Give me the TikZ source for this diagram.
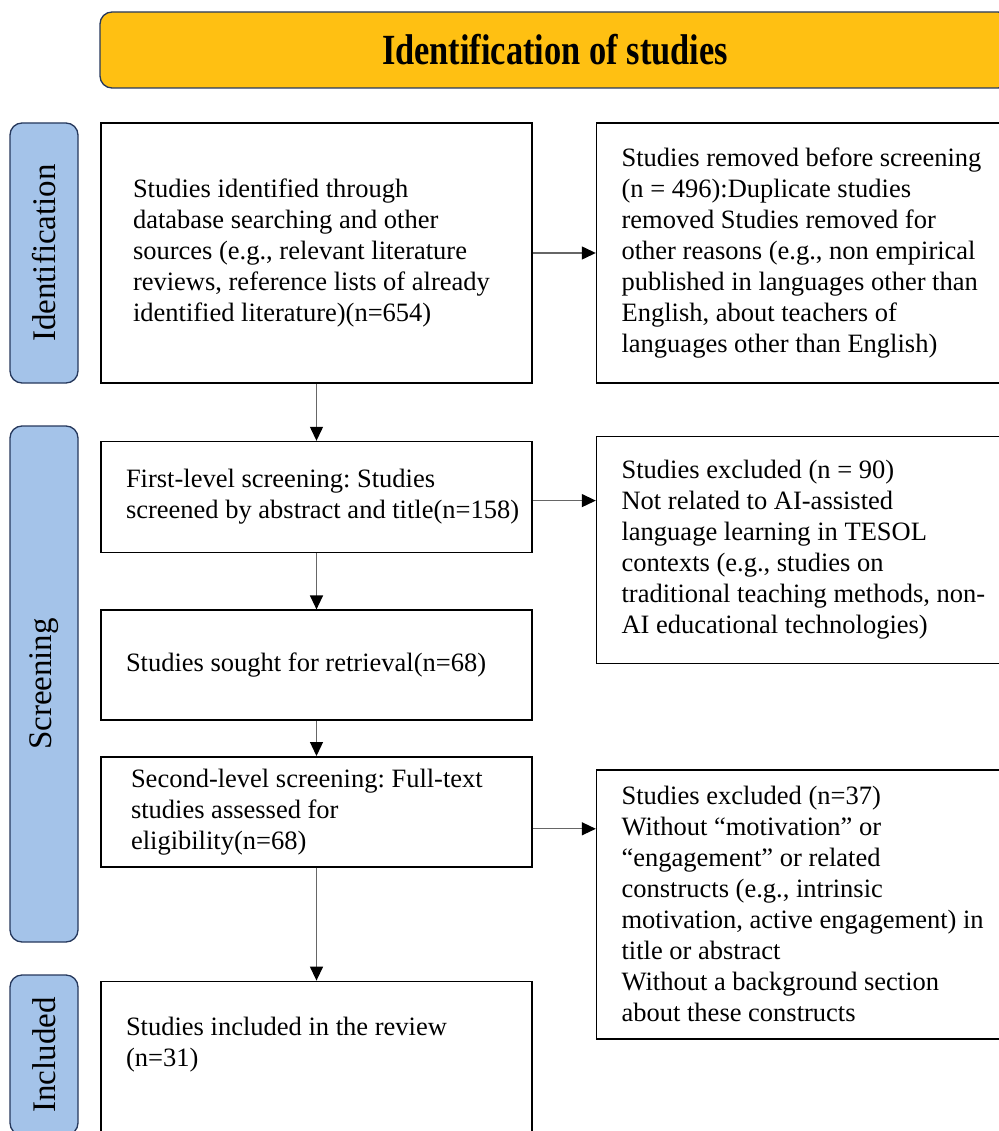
\documentclass[tikz,border=0pt]{standalone}
\usepackage{graphicx}
\usepackage{fontspec}
\setmainfont{Liberation Serif}
\usetikzlibrary{arrows.meta, positioning}
\frenchspacing

\definecolor{bannerfill}{RGB}{255,192,18}
\definecolor{stagefill}{RGB}{164,195,233}
\definecolor{navyline}{RGB}{38,56,92}

\begin{document}
\begin{tikzpicture}[
        x=1pt, y=-1pt,
        font=\fontsize{26.5}{31}\selectfont,
        flowbox/.style={rectangle, draw=black, line width=1.6pt, minimum width=431pt, text width=381pt, inner xsep=25pt, align=flush left},
        sidebox/.style={rectangle, draw=black, line width=1.6pt, minimum width=425pt, text width=375pt, inner xsep=25pt, align=flush left},
        stage/.style={rectangle, rounded corners=12pt, draw=navyline, fill=stagefill, line width=1.3pt, rotate=90, minimum height=68pt, font=\fontsize{33}{36}\selectfont},
        banner/.style={rectangle, rounded corners=12pt, draw=navyline, fill=bannerfill, line width=1.3pt, minimum width=910pt, minimum height=76pt},
        flow/.style={-{Triangle[length=14pt, width=13pt, color=black]}, draw=black!60, line width=1.3pt}
    ]
        \useasboundingbox (0,0) rectangle (998,1131);

        % Title
        \node[banner] (title) at (555,50) {\scalebox{0.8}[1]{\fontsize{43}{48}\selectfont\bfseries Identification of studies}};

        % Stages
        \node[stage, minimum width=260pt] (stageid) at (44,253) {Identification};
        \node[stage, minimum width=516pt] (stagescr) at (44,684) {Screening};
        \node[stage, minimum width=160pt] (stageinc) at (44,1055) {Included};

        % Main flow
        \node[flowbox, minimum height=260pt, inner xsep=32pt, text width=367pt] (found) at (316.5,253) {Studies identified through\\database searching and other\\sources (e.g., relevant literature\\reviews, reference lists of already\\identified literature)(n=654)};
        \node[flowbox, minimum height=111pt, below=57pt of found] (first) {First-level screening: Studies\\\mbox{screened by abstract and title(n=158)}};
        \node[flowbox, minimum height=110pt, below=56pt of first] (sought) {Studies sought for retrieval(n=68)};
        \node[flowbox, minimum height=110pt, below=35pt of sought, inner xsep=30pt, text width=371pt] (second) {Second-level screening: Full-text\\studies assessed for\\eligibility(n=68)};
        \node[flowbox, minimum height=161pt, below=113pt of second] (included) {Studies included in the review\\(n=31)\\\strut};

        % Removed and excluded
        \node[sidebox, minimum height=260pt, right=63pt of found] (removed) {Studies removed before screening\\(n = 496):Duplicate studies\\removed Studies removed for\\other reasons (e.g., non empirical\\published in languages other than\\English, about teachers of\\languages other than English)};
        \node[sidebox, minimum height=227pt, below right=-5pt and 63pt of first.north east] (excl1) {Studies excluded (n = 90)\\Not related to AI-assisted\\language learning in TESOL\\contexts (e.g., studies on\\traditional teaching methods, non-\\AI educational technologies)};
        \node[sidebox, minimum height=269pt, below right=13pt and 63pt of second.north east] (excl2) {Studies excluded (n=37)\\Without “motivation” or\\“engagement” or related\\constructs (e.g., intrinsic\\motivation, active engagement) in\\title or abstract\\Without a background section\\about these constructs};

        % Arrows
        \draw[flow] (found) -- (first);
        \draw[flow] (first) -- (sought);
        \draw[flow] (sought) -- (second);
        \draw[flow] (second) -- (included);
        \draw[flow] (found) -- (removed);
        \draw[flow] ([yshift=-3.5pt]first.east) -- ([yshift=-3.5pt]first.east -| excl1.west);
        \draw[flow] ([yshift=-17pt]second.east) -- ([yshift=-17pt]second.east -| excl2.west);

    \end{tikzpicture}
\end{document}
